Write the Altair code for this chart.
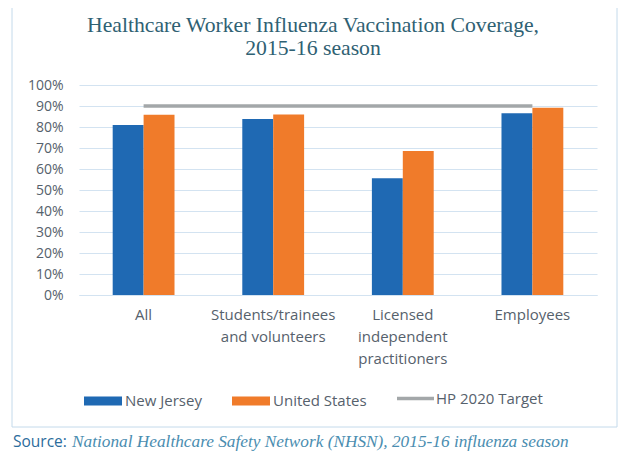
import altair as alt
import pandas as pd

# ---- data ----
categories = ["All", "Students/trainees and volunteers",
              "Licensed independent practitioners", "Employees"]
label_lines = [["All"], ["Students/trainees", "and volunteers"],
               ["Licensed", "independent", "practitioners"], ["Employees"]]
series = ["New Jersey", "United States"]
nj_values = [81.0, 83.8, 55.6, 86.5]
us_values = [85.8, 86.0, 68.6, 89.2]
target_label = "HP 2020 Target"
target_values = [90, 90, 90, 90]
y_ticks = [0, 10, 20, 30, 40, 50, 60, 70, 80, 90, 100]

title_lines = ["Healthcare Worker Influenza Vaccination Coverage,", "2015-16 season"]
source_prefix = "Source:"
source_text = "National Healthcare Safety Network (NHSN), 2015-16 influenza season"

# ---- tables ----
bars = pd.DataFrame({
    "category": categories * 2,
    "series": [series[0]] * 4 + [series[1]] * 4,
    "value": [v / 100 for v in nj_values + us_values],
})
line = pd.DataFrame({
    "category": categories,
    "value": [v / 100 for v in target_values],
    "name": [target_label] * 4,
})
one = pd.DataFrame({"a": [source_prefix], "b": [source_text],
                    "t": ["\n".join(title_lines)]})

label_expr = " : ".join(
    f"datum.value == '{c}' ? {l!r}" for c, l in zip(categories, label_lines)
) + " : datum.value"

BLUE = "#1F69B3"
ORANGE = "#F07B2A"
GRAY = "#A3A7A9"
GRID = "#D3E3F1"
LABEL = "#56616C"
SANS = "Open Sans"

x_enc = alt.X("category:N", sort=categories,
              scale=alt.Scale(paddingInner=0.523, paddingOuter=0.26),
              axis=alt.Axis(title=None, labelAngle=0, labelExpr=label_expr,
                            ticks=False, labelPadding=12, labelFont=SANS,
                            labelFontSize=15, labelLineHeight=22,
                            labelColor=LABEL, domainColor=GRID, grid=False,
                            labelBaseline="top"))

y_enc = alt.Y("value:Q", scale=alt.Scale(domain=[0, 1]),
              axis=alt.Axis(title=None, values=[t / 100 for t in y_ticks], format=".0%",
                            labelOverlap=False,
                            ticks=False, domain=False, labelPadding=16,
                            labelFont=SANS, labelFontSize=14, labelColor=LABEL,
                            gridColor=GRID, gridWidth=1))

bar_layer = alt.Chart(bars).mark_bar().encode(
    x=x_enc,
    xOffset=alt.XOffset("series:N", sort=series, scale=alt.Scale(paddingInner=0, paddingOuter=0)),
    y=y_enc,
    color=alt.Color("series:N", sort=series,
                    scale=alt.Scale(domain=series, range=[BLUE, ORANGE]),
                    legend=alt.Legend(title=None, orient="none", direction="horizontal",
                                      legendX=5, legendY=297,
                                      symbolType="M-1,-0.237H1V0.237H-1Z",
                                      symbolSize=1444, symbolStrokeWidth=0,
                                      labelOffset=3, columnPadding=30,
                                      labelFont=SANS, labelFontSize=15,
                                      labelColor=LABEL)),
)

line_layer = alt.Chart(line).mark_line(strokeWidth=3.5).encode(
    x=x_enc,
    y=y_enc,
    stroke=alt.Stroke("name:N",
                      scale=alt.Scale(domain=[target_label], range=[GRAY]),
                      legend=alt.Legend(title=None, orient="none", direction="horizontal",
                                        legendX=316, legendY=293,
                                        symbolType="stroke", symbolSize=1369,
                                        symbolStrokeWidth=3.5, labelOffset=0,
                                        labelFont=SANS, labelFontSize=15,
                                        labelColor=LABEL)),
)

frame = alt.Chart(one).mark_rect(fillOpacity=0, stroke="#C4DAEB", strokeWidth=1).encode(
    x=alt.value(-67), x2=alt.value(538), y=alt.value(-100), y2=alt.value(342)
)

title = alt.Chart(one).mark_text(align="center", baseline="alphabetic",
                                 font="Liberation Serif", fontSize=21.7, lineHeight=23,
                                 lineBreak="\n", color="#2F6173").encode(
    x=alt.value(234), y=alt.value(-53), text="t:N")

src1 = alt.Chart(one).mark_text(align="left", baseline="alphabetic", font=SANS,
                                fontSize=15.5, color="#2C6C9C").encode(
    x=alt.value(-66), y=alt.value(362), text="a:N")
src2 = alt.Chart(one).mark_text(align="left", baseline="alphabetic", font="Liberation Serif",
                                fontStyle="italic", fontSize=17.3, color="#4A8DB0").encode(
    x=alt.value(-7), y=alt.value(362), text="b:N")

chart = alt.layer(frame, bar_layer, line_layer, title, src1, src2).resolve_scale(
    color="independent"
).properties(
    width=518, height=210,
    autosize=alt.AutoSizeParams(type="none"),
    padding={"left": 71, "top": 77, "right": 24, "bottom": 171},
).configure_view(stroke=None)

chart.save("out.html", embed_options={"renderer": "svg", "actions": False})
